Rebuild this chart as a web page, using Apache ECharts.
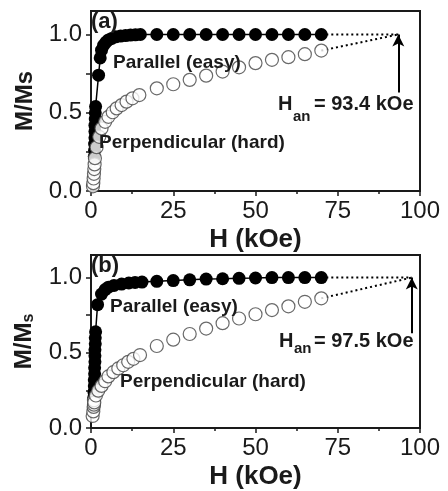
<!DOCTYPE html>
<html>
<head>
<meta charset="utf-8">
<script src="https://cdn.jsdelivr.net/npm/echarts@6/dist/echarts.min.js"></script>
<style>
  html, body { margin: 0; padding: 0; background: #fff; }
  #mainChart { width: 448px; height: 491px; }
</style>
</head>
<body>
<div id="mainChart"></div>
<script>
// panel (a) - parallel (easy), filled
var aParH = [1.0, 1.1, 1.1, 1.2, 1.2, 1.2, 1.3, 1.3, 1.4, 2.3, 2.8, 3.2, 3.8, 4.5, 5.3, 6.3, 7.5, 9, 10.5, 12, 13.5, 15, 20, 25, 30, 35, 40, 45, 50, 55, 60, 65, 70];
var aParM = [0.22, 0.26, 0.30, 0.34, 0.38, 0.42, 0.46, 0.50, 0.54, 0.74, 0.85, 0.90, 0.93, 0.95, 0.965, 0.975, 0.985, 0.99, 0.993, 0.996, 0.998, 1.0, 1, 1, 1, 1, 1, 1, 1, 1, 1, 1, 1];
// panel (a) - perpendicular (hard), open
var aPerH = [0.6, 0.7, 0.8, 0.9, 1.0, 1.1, 1.2, 1.7, 2.5, 3.2, 4.3, 5.3, 6.6, 7.8, 9.3, 10.8, 12.6, 14.7, 20, 25, 30, 35, 40, 45, 50, 55, 60, 65, 70];
var aPerM = [0.03, 0.05, 0.08, 0.11, 0.14, 0.17, 0.21, 0.28, 0.346, 0.40, 0.442, 0.474, 0.503, 0.528, 0.549, 0.571, 0.592, 0.613, 0.656, 0.682, 0.71, 0.737, 0.763, 0.79, 0.817, 0.838, 0.855, 0.874, 0.897];
var aHan = 93.4;

// panel (b)
var bParH = [0.8, 0.9, 1.0, 1.0, 1.1, 1.1, 1.2, 1.2, 1.2, 1.3, 1.3, 1.4, 2.0, 3.2, 4.3, 5.3, 7, 9.3, 11.5, 13.4, 15.5, 20, 25, 30, 35, 40, 45, 50, 55, 60, 65, 70];
var bParM = [0.20, 0.24, 0.28, 0.32, 0.36, 0.40, 0.44, 0.48, 0.52, 0.56, 0.60, 0.64, 0.82, 0.89, 0.92, 0.936, 0.948, 0.957, 0.964, 0.968, 0.97, 0.975, 0.98, 0.985, 0.99, 0.992, 0.995, 0.997, 1, 1, 1, 1];
var bPerH = [0.5, 0.7, 0.8, 0.9, 0.9, 1.0, 1.5, 2.2, 3.2, 4.3, 5.3, 6.8, 8.3, 9.8, 11.3, 12.9, 14.9, 20, 25, 30, 35, 40, 45, 50, 55, 60, 65, 70];
var bPerM = [0.08, 0.11, 0.14, 0.155, 0.184, 0.17, 0.216, 0.248, 0.28, 0.311, 0.343, 0.371, 0.396, 0.417, 0.44, 0.46, 0.485, 0.545, 0.587, 0.625, 0.661, 0.697, 0.728, 0.756, 0.784, 0.809, 0.839, 0.862];
var bHan = 97.5;

var xTicks = [0, 25, 50, 75, 100];
var yTicks = [0, 0.5, 1.0];

function zip(xs, ys) {
  return xs.map(function (x, i) { return [x, ys[i]]; });
}

var FONT = 'Liberation Sans, Arial, sans-serif';
var INK = '#1a1a1a';

function xAxisFor(idx) {
  return {
    type: 'value', gridIndex: idx, min: 0, max: 100, interval: 25,
    name: 'H (kOe)', nameLocation: 'middle', nameGap: 36,
    nameTextStyle: { fontFamily: FONT, fontSize: 26, fontWeight: 'bold', color: INK },
    axisLine: { lineStyle: { color: INK, width: 2 } },
    axisTick: { length: 5, lineStyle: { color: INK, width: 1.5 } },
    minorTick: { show: true, splitNumber: 2, length: 3, lineStyle: { color: INK, width: 1.5 } },
    splitLine: { show: false },
    axisLabel: { fontFamily: FONT, fontSize: 24, color: INK, margin: 8 }
  };
}

function yAxisFor(idx, name, rich) {
  return {
    type: 'value', gridIndex: idx, min: 0, max: 1.15,
    name: name, nameLocation: 'middle', nameGap: 54, nameRotate: 90,
    nameTextStyle: { fontFamily: FONT, fontSize: 24, fontWeight: 'bold', color: INK, rich: rich },
    axisLine: { lineStyle: { color: INK, width: 2 } },
    axisTick: { length: 5, customValues: [0, 0.25, 0.5, 0.75, 1.0], lineStyle: { color: INK, width: 1.5 } },
    splitLine: { show: false },
    axisLabel: {
      fontFamily: FONT, fontSize: 24, color: INK, margin: 9,
      customValues: yTicks,
      formatter: function (v) { return v.toFixed(1); }
    }
  };
}

function panelSeries(idx, parH, parM, perH, perM, han) {
  var lastPar = parM[parM.length - 1];
  var lastPer = perM[perM.length - 1];
  var lastH = parH[parH.length - 1];
  return [
    {
      type: 'line', xAxisIndex: idx, yAxisIndex: idx, z: 3,
      data: zip(parH, parM),
      symbol: 'circle', symbolSize: 13,
      itemStyle: { color: '#000' },
      lineStyle: { color: '#000', width: 1.5 }
    },
    {
      type: 'scatter', xAxisIndex: idx, yAxisIndex: idx, z: 4,
      data: zip(perH, perM),
      symbol: 'circle', symbolSize: 13,
      itemStyle: { color: '#fff', borderColor: '#444', borderWidth: 1.2 }
    },
    {
      type: 'line', xAxisIndex: idx, yAxisIndex: idx, z: 2,
      data: [[lastH, lastPar], [han, 1.0]],
      symbol: 'none',
      lineStyle: { color: '#000', width: 2, type: [2, 3] },
      markLine: {
        silent: true, symbol: ['none', 'arrow'], symbolSize: [9, 12],
        label: { show: false },
        lineStyle: { color: '#000', width: 2, type: 'solid' },
        data: [[{ coord: [han, 0.63] }, { coord: [han, 1.0] }]]
      }
    },
    {
      type: 'line', xAxisIndex: idx, yAxisIndex: idx, z: 2,
      data: [[lastH, lastPer], [han, 1.0]],
      symbol: 'none',
      lineStyle: { color: '#000', width: 2, type: [2, 3] }
    }
  ];
}

function txt(left, top, text, size, extra) {
  var s = { text: text, fontFamily: FONT, fontSize: size, fontWeight: 'bold', fill: INK };
  if (extra) for (var k in extra) s[k] = extra[k];
  return { type: 'text', left: left, top: top, style: s, z: 10 };
}

var chart = echarts.init(document.getElementById('mainChart'));

var option = {
  backgroundColor: '#fff',
  animation: false,
  grid: [
    { left: 91, top: 11, width: 329, height: 180, show: true, borderColor: INK, borderWidth: 2 },
    { left: 91, top: 255, width: 329, height: 181, show: true, borderColor: INK, borderWidth: 2 }
  ],
  xAxis: [xAxisFor(0), xAxisFor(1)],
  yAxis: [
    yAxisFor(0, 'M/Ms', {}),
    yAxisFor(1, '{m|M/M}{s|s}', {
      m: { fontFamily: FONT, fontSize: 24, fontWeight: 'bold', color: INK },
      s: { fontFamily: FONT, fontSize: 16, fontWeight: 'bold', color: INK, padding: [10, 0, 0, 0] }
    })
  ],
  series: panelSeries(0, aParH, aParM, aPerH, aPerM, aHan)
    .concat(panelSeries(1, bParH, bParM, bPerH, bPerM, bHan)),
  graphic: [
    txt(91, 11, '(a)', 22),
    txt(113, 53, 'Parallel (easy)', 19),
    txt(99, 133, 'Perpendicular (hard)', 19),
    txt(278, 94, 'H', 20),
    txt(293, 109, 'an', 15),
    txt(314, 94, '= ' + aHan + ' kOe', 20),

    txt(91, 255, '(b)', 22),
    txt(110, 297, 'Parallel (easy)', 19),
    txt(120, 372, 'Perpendicular (hard)', 19),
    txt(279, 331, 'H', 20),
    txt(294, 341, 'an', 15),
    txt(314, 331, '= ' + bHan + ' kOe', 20)
  ]
};

chart.setOption(option);
</script>
</body>
</html>
